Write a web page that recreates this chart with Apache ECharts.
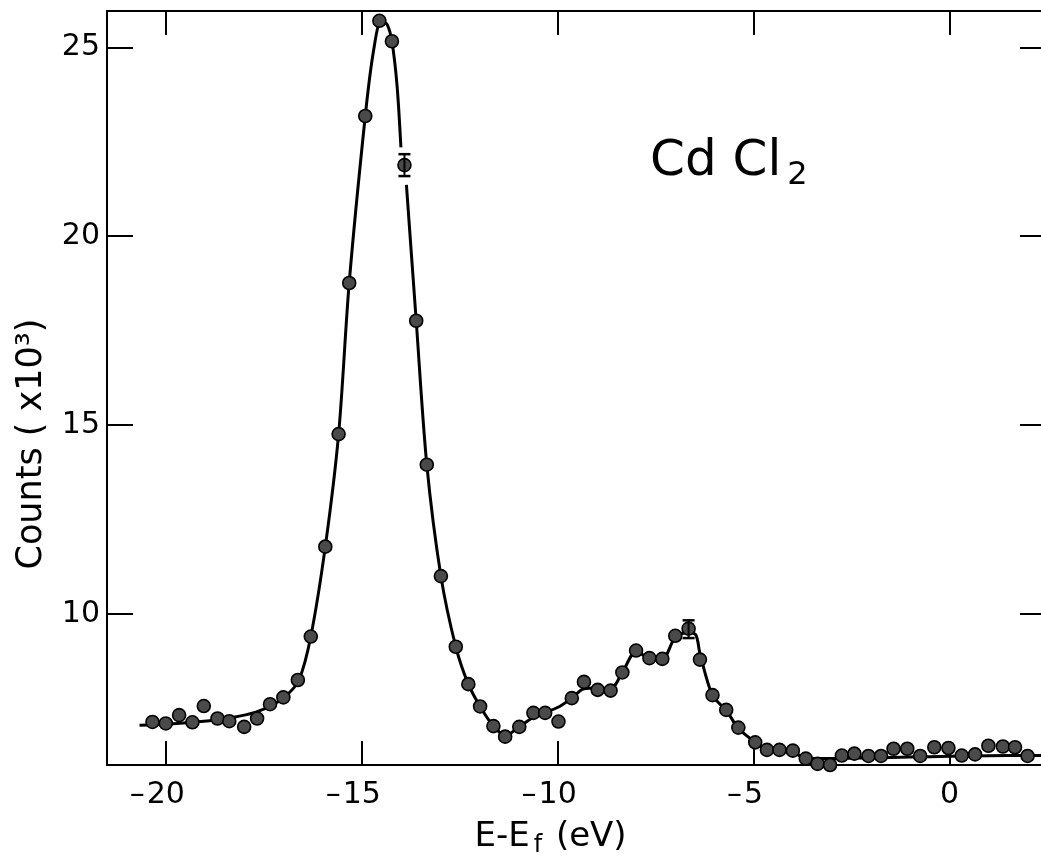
<!DOCTYPE html>
<html><head><meta charset="utf-8">
<script src="https://cdn.jsdelivr.net/npm/echarts@6/dist/echarts.min.js"></script>
<style>html,body{margin:0;padding:0;background:#fff;overflow:hidden}#c{width:1046px;height:863px}</style>
</head><body><div id="c"></div>
<script>
// measured data points (E - Ef in eV, counts x 10^3)
const pointX = [-20.34,-20.0,-19.66,-19.32,-19.03,-18.68,-18.38,-18.0,-17.67,-17.34,-17.0,-16.63,-16.30,-15.93,-15.59,-15.32,-14.91,-14.55,-14.23,-13.91,-13.61,-13.34,-12.98,-12.60,-12.28,-11.98,-11.64,-11.34,-10.98,-10.62,-10.32,-9.98,-9.64,-9.33,-8.98,-8.65,-8.35,-8.0,-7.66,-7.33,-7.0,-6.66,-6.37,-6.05,-5.70,-5.39,-4.96,-4.66,-4.34,-4.0,-3.67,-3.37,-3.05,-2.75,-2.43,-2.07,-1.75,-1.43,-1.08,-0.75,-0.39,-0.03,0.31,0.65,0.99,1.36,1.67,1.99];
const pointY = [7.14,7.10,7.32,7.13,7.56,7.23,7.16,7.01,7.23,7.61,7.79,8.25,9.40,11.78,14.76,18.76,23.18,25.70,25.16,21.88,17.76,13.95,11.00,9.13,8.14,7.55,7.03,6.75,7.01,7.38,7.38,7.15,7.77,8.20,7.99,7.97,8.45,9.03,8.83,8.81,9.42,9.61,8.79,7.85,7.46,6.99,6.60,6.40,6.40,6.38,6.17,6.03,6.00,6.25,6.30,6.24,6.24,6.43,6.43,6.24,6.47,6.45,6.25,6.28,6.51,6.49,6.47,6.24];
// hand-drawn guide curve (null = break in the line around the error bar)
const curveX = [-20.67,-20.0,-19.1,-18.3,-17.7,-17.25,-16.9,-16.6,-16.3,-15.93,-15.59,-15.32,-14.91,-14.7,-14.5,-14.35,-14.23,-14.1,-14.0,-13.93,-13.86,-13.61,-13.34,-12.98,-12.6,-12.28,-11.98,-11.64,-11.34,-10.98,-10.6,-10.3,-9.95,-9.64,-9.33,-8.98,-8.65,-8.35,-8.0,-7.66,-7.33,-7.0,-6.7,-6.48,-6.37,-6.05,-5.70,-5.39,-4.96,-4.66,-4.34,-4.0,-3.75,-3.3,-2.5,-1.5,-0.5,0.5,1.5,2.46];
const curveY = [7.05,7.08,7.15,7.26,7.40,7.60,7.86,8.25,9.40,11.78,14.76,18.76,23.18,24.9,25.72,25.6,25.16,24.0,22.35,null,21.36,17.76,13.95,11.0,9.13,8.14,7.55,7.03,6.78,7.01,7.28,7.40,7.55,7.77,8.02,8.04,8.02,8.45,9.0,8.83,8.81,9.38,9.5,9.45,8.95,7.84,7.45,6.97,6.60,6.42,6.38,6.35,6.20,6.17,6.18,6.20,6.22,6.24,6.25,6.25];
// error bars
const errX = [-13.91, -6.66];
const errLow = [21.59, 9.36];
const errHigh = [22.17, 9.83];
// axes
const xMin = -21.5, xMax = 2.46, yMin = 6.0, yMax = 25.96;
const tickStep = 5;

const FONT = 'DejaVu Sans';
const chart = echarts.init(document.getElementById('c'), null, {renderer: 'canvas'});

const pts = pointX.map((x, i) => [x, pointY[i]]);
const curve = curveX.map((x, i) => [x, curveY[i] === null ? '-' : curveY[i]]);
const errs = errX.map((x, i) => [x, errLow[i], errHigh[i]]);

const axisLineStyle = {color: '#000', width: 2};
const tickStyle = {color: '#000', width: 2};

function xFmt(v) {
  if (Math.abs(v % tickStep) > 1e-6) return '';
  if (v < 0) return '{m|–}' + Math.abs(v) + '{s|}';
  return String(v);
}
function yFmt(v) {
  if (Math.abs(v % tickStep) > 1e-6) return '';
  return String(v);
}
function frameAxis(pos) {
  return {
    type: 'value', position: pos,
    axisLine: {show: true, onZero: false, lineStyle: axisLineStyle},
    axisTick: {show: true, inside: true, length: (pos === 'top' || pos === 'bottom') ? 24 : 26, lineStyle: tickStyle},
    splitLine: {show: false}, axisLabel: {show: false}
  };
}

chart.setOption({
  animation: false,
  backgroundColor: '#fff',
  grid: {left: 107, right: 0, top: 11, bottom: 85, containLabel: false},
  xAxis: [Object.assign(frameAxis('bottom'), {
    min: xMin, max: xMax, minInterval: tickStep, maxInterval: tickStep, splitNumber: 5,
    axisLabel: {
      show: true, formatter: xFmt, showMinLabel: false, showMaxLabel: false,
      margin: 15, color: '#000', fontFamily: FONT, fontSize: 30,
      rich: {m: {fontFamily: FONT, fontSize: 30, width: 17, align: 'left', color: '#000'},
             s: {fontFamily: FONT, fontSize: 30, width: 17}}
    },
    name: 'E-E{sub|f} (eV)', nameLocation: 'middle', nameGap: 51,
    nameTextStyle: {color: '#000', fontFamily: FONT, fontSize: 34, padding: [0, 52, 0, 0],
      rich: {sub: {fontFamily: FONT, fontSize: 24, color: '#000', padding: [18, 3, 0, 4]}}}
  }), Object.assign(frameAxis('top'), {
    min: xMin, max: xMax, minInterval: tickStep, maxInterval: tickStep, splitNumber: 5
  })],
  yAxis: [Object.assign(frameAxis('left'), {
    min: yMin, max: yMax, minInterval: tickStep, maxInterval: tickStep, splitNumber: 4,
    axisLabel: {show: true, formatter: yFmt, showMinLabel: false, showMaxLabel: false, margin: 7,
      color: '#000', fontFamily: FONT, fontSize: 30},
    name: 'Counts ( x10³)', nameLocation: 'middle', nameRotate: 90, nameGap: 58,
    nameTextStyle: {color: '#000', fontFamily: FONT, fontSize: 35, padding: [0, 112, 0, 0]}
  }), Object.assign(frameAxis('right'), {
    min: yMin, max: yMax, minInterval: tickStep, maxInterval: tickStep, splitNumber: 4
  })],
  graphic: [{
    type: 'text', left: 650, top: 137, z: 10,
    style: {
      text: '{a|Cd Cl}{b|2}', fill: '#000',
      rich: {a: {fontFamily: FONT, fontSize: 50, fill: '#000'},
             b: {fontFamily: FONT, fontSize: 32, fill: '#000', padding: [28, 0, 0, 6]}}
    }
  }],
  series: [{
    type: 'line', data: curve, xAxisIndex: 0, yAxisIndex: 0,
    smooth: 0.3, connectNulls: false, showSymbol: false, symbol: 'none',
    lineStyle: {color: '#000', width: 3}, z: 2, clip: false
  }, {
    type: 'scatter', data: pts, xAxisIndex: 0, yAxisIndex: 0,
    symbol: 'circle', symbolSize: 13, clip: false,
    itemStyle: {color: '#4a4a4a', borderColor: '#000', borderWidth: 1.6, opacity: 1}, z: 3
  }, {
    type: 'custom', data: errs, xAxisIndex: 0, yAxisIndex: 0, z: 4, clip: false,
    renderItem: function (params, api) {
      const top = api.coord([api.value(0), api.value(2)]);
      const bot = api.coord([api.value(0), api.value(1)]);
      const hw = 6;
      return {
        type: 'group',
        children: [
          {type: 'line', shape: {x1: top[0], y1: top[1], x2: bot[0], y2: bot[1]}, style: {stroke: '#000', lineWidth: 2}},
          {type: 'line', shape: {x1: top[0] - hw, y1: top[1], x2: top[0] + hw, y2: top[1]}, style: {stroke: '#000', lineWidth: 2.5}},
          {type: 'line', shape: {x1: bot[0] - hw, y1: bot[1], x2: bot[0] + hw, y2: bot[1]}, style: {stroke: '#000', lineWidth: 2.5}}
        ]
      };
    }
  }]
});
</script>
</body></html>
